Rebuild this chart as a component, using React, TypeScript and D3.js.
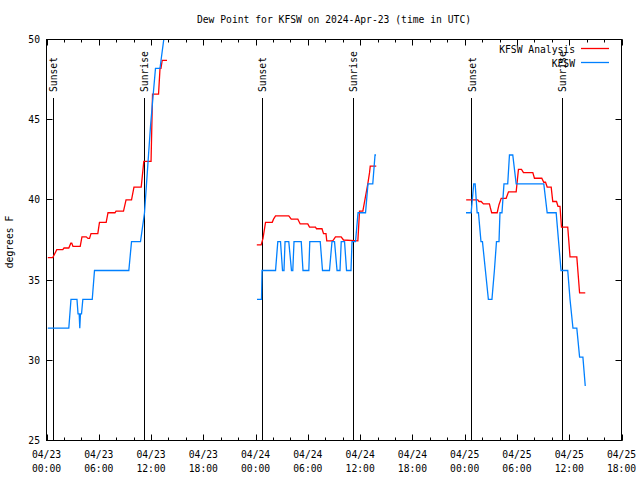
import React from "react";
import * as d3 from "d3";

// hours since 2024-04-23 00:00 UTC, dew point (F)
const analysisDay1: [number, number][] = [
  [0.15, 36.4], [0.72, 36.4], [1.18, 36.9], [1.87, 36.9], [2.01, 37.0], [2.56, 37.0], [2.79, 37.3], [2.9, 37.3],
  [3.04, 37.1], [3.87, 37.1], [4.07, 37.7], [4.56, 37.7], [4.76, 37.6], [4.94, 37.6], [5.11, 37.9], [5.89, 37.9],
  [6.08, 38.6], [6.85, 38.6], [7.06, 39.2], [7.86, 39.2], [7.98, 39.3], [8.84, 39.3], [9.13, 40.0], [9.76, 40.0],
  [10.04, 40.8], [10.87, 40.8], [11.17, 42.4], [12.0, 42.4], [12.17, 46.6], [12.86, 46.6], [13.03, 48.2],
  [13.14, 48.2], [13.28, 48.7], [13.83, 48.7],
];
const obsDay1: [number, number][] = [
  [0.15, 32.0], [2.56, 32.0], [2.81, 33.8], [3.5, 33.8], [3.62, 32.9], [3.75, 32.9], [3.82, 32.0], [3.9, 32.9],
  [4.02, 32.9], [4.17, 33.8], [5.25, 33.8], [5.51, 35.6], [9.45, 35.6], [9.76, 37.4], [10.79, 37.4], [11.25, 39.2],
  [11.48, 41.0], [11.71, 42.8], [11.94, 44.6], [12.22, 46.4], [12.51, 48.2], [13.03, 48.2], [13.17, 48.8],
  [13.46, 50.0], [13.77, 51.8],
];
const analysisDay2: [number, number][] = [
  [24.14, 37.2], [24.64, 37.2], [24.85, 37.6], [25.14, 38.6], [25.91, 38.6], [26.06, 38.8], [26.29, 39.0],
  [27.81, 39.0], [28.09, 38.8], [28.85, 38.8], [29.12, 38.5], [29.99, 38.5], [30.19, 38.3], [30.88, 38.3],
  [30.99, 38.2], [31.62, 38.2], [31.8, 37.9], [32.08, 37.9], [32.17, 37.45], [32.86, 37.45], [33.17, 37.7],
  [33.82, 37.7], [34.09, 37.5], [35.74, 37.45], [35.93, 39.3], [36.31, 39.3], [36.88, 41.0], [37.08, 41.7],
  [37.16, 42.1], [37.85, 42.1],
];
const obsDay2: [number, number][] = [
  [24.16, 33.8], [24.68, 33.8], [24.74, 35.6], [26.29, 35.6], [26.55, 37.4], [26.86, 37.4], [27.09, 35.6],
  [27.26, 35.6], [27.38, 37.4], [27.81, 37.4], [28.12, 35.6], [28.27, 35.6], [28.41, 37.4], [29.24, 37.4],
  [29.44, 35.6], [30.11, 35.6], [30.22, 37.4], [31.42, 37.4], [31.68, 35.6], [32.48, 35.6], [32.77, 37.4],
  [33.06, 37.4], [33.35, 35.6], [33.69, 35.6], [33.83, 37.4], [34.21, 37.4], [34.44, 35.6], [34.95, 35.6],
  [35.07, 37.4], [35.47, 37.4], [35.76, 39.2], [36.62, 39.2], [36.9, 41.0], [37.45, 41.0], [37.71, 42.8],
  [37.82, 42.8],
];
const analysisDay3: [number, number][] = [
  [48.17, 40.0], [49.5, 40.0], [49.64, 39.9], [49.89, 39.9], [50.15, 39.75], [50.84, 39.75], [50.95, 39.5],
  [51.1, 39.2], [51.73, 39.2], [51.94, 39.7], [52.19, 40.1], [52.76, 40.1], [53.03, 40.5], [53.91, 40.5],
  [54.17, 41.9], [54.52, 41.9], [54.75, 41.7], [55.82, 41.7], [56.01, 41.35], [56.85, 41.35], [57.08, 41.1],
  [57.28, 41.1], [57.47, 40.8], [57.93, 40.8], [58.11, 39.9], [58.54, 39.9], [58.71, 39.6], [58.94, 39.6],
  [59.11, 38.3], [59.83, 38.3], [60.09, 36.45], [60.87, 36.45], [61.19, 34.2], [61.84, 34.2],
];
const obsDay3: [number, number][] = [
  [48.15, 39.2], [48.74, 39.2], [49.04, 41.0], [49.2, 41.0], [49.43, 39.2], [49.58, 39.2], [49.87, 37.4],
  [50.04, 37.4], [50.38, 35.6], [50.72, 33.8], [51.13, 33.8], [51.41, 35.6], [51.65, 37.4], [51.94, 37.4],
  [52.05, 39.2], [52.28, 39.2], [52.51, 41.0], [52.94, 41.0], [53.14, 42.8], [53.52, 42.8], [53.91, 41.0],
  [57.08, 41.0], [57.47, 39.2], [58.5, 39.2], [59.06, 35.6], [59.83, 35.6], [60.09, 33.8], [60.43, 32.0],
  [60.87, 32.0], [61.19, 30.2], [61.57, 30.2], [61.84, 28.4],
];

const sunsetHours = [0.717, 24.733, 48.75];
const sunriseHours = [11.167, 35.15, 59.133];
const yTicks = [25, 30, 35, 40, 45, 50];

const title = "Dew Point for KFSW on 2024-Apr-23 (time in UTC)";
const yLabel = "degrees F";
const legendNames = ["KFSW Analysis", "KFSW"];
const colors = ["#ff0000", "#0080ff"];

const W = 640, H = 480;
const L = 46.5, R = 621.5, T = 39.5, B = 440.5;
const FONT = "'DejaVu Sans Mono', 'Liberation Mono', monospace";
const FS = 9.7;

const t0 = Date.UTC(2024, 3, 23, 0);
const hr = (h: number) => new Date(t0 + h * 3600e3);

export default function App() {
  const x = d3.scaleUtc().domain([hr(0), hr(66)]).range([L, R]);
  const y = d3.scaleLinear().domain([25, 50]).range([B, T]);
  const line = d3
    .line<[number, number]>()
    .x((d) => x(hr(d[0])))
    .y((d) => y(d[1]));

  const majors = d3.utcHour.every(6)!.range(hr(0), hr(66.01));
  const minors = d3.utcHour.every(2)!.range(hr(0), hr(66.01));
  const fmtD = d3.utcFormat("%m/%d");
  const fmtT = d3.utcFormat("%H:%M");

  const analysis = [analysisDay1, analysisDay2, analysisDay3];
  const obs = [obsDay1, obsDay2, obsDay3];
  const lineTop = 98;
  const px = (v: number) => Math.round(v) + 0.5;

  return (
    <svg
      width={W}
      height={H}
      style={{ display: "block", position: "absolute", left: 0, top: 0, background: "#fff" }}
      fontFamily={FONT}
      fontSize={FS}
    >
      <defs>
        <clipPath id="plot">
          <rect x={L} y={T} width={R - L} height={B - T} />
        </clipPath>
      </defs>
      <rect x={0} y={0} width={W} height={H} fill="#fff" />
      <text x={(L + R) / 2} y={23} textAnchor="middle" fill="#000">{title}</text>

      {/* y ticks */}
      {yTicks.map((v) => (
        <g key={v}>
          <line x1={L} x2={L + 6} y1={px(y(v) - 0.5)} y2={px(y(v) - 0.5)} stroke="#000" />
          <line x1={R - 6} x2={R} y1={px(y(v) - 0.5)} y2={px(y(v) - 0.5)} stroke="#000" />
          <text x={40} y={y(v) + 3.5} textAnchor="end" fill="#000">{v}</text>
        </g>
      ))}
      {/* x ticks */}
      {minors.map((d, i) => (
        <g key={"m" + i}>
          <line x1={px(x(d))} x2={px(x(d))} y1={B} y2={B - 3} stroke="#000" />
          <line x1={px(x(d))} x2={px(x(d))} y1={T} y2={T + 3} stroke="#000" />
        </g>
      ))}
      {majors.map((d, i) => (
        <g key={"M" + i}>
          <line x1={px(x(d))} x2={px(x(d))} y1={B} y2={B - 6} stroke="#000" />
          <line x1={px(x(d))} x2={px(x(d))} y1={T} y2={T + 6} stroke="#000" />
          <text x={x(d)} y={458} textAnchor="middle" fill="#000">{fmtD(d)}</text>
          <text x={x(d)} y={472} textAnchor="middle" fill="#000">{fmtT(d)}</text>
        </g>
      ))}

      {/* sun lines */}
      {sunsetHours.map((h, i) => (
        <g key={"ss" + i}>
          <line x1={px(x(hr(h)))} x2={px(x(hr(h)))} y1={lineTop} y2={B} stroke="#000" />
          <text transform={`translate(${x(hr(h)) + 4.5},92) rotate(-90)`} fill="#000">Sunset</text>
        </g>
      ))}
      {sunriseHours.map((h, i) => (
        <g key={"sr" + i}>
          <line x1={px(x(hr(h)))} x2={px(x(hr(h)))} y1={lineTop} y2={B} stroke="#000" />
          <text transform={`translate(${x(hr(h)) + 4.5},92) rotate(-90)`} fill="#000">Sunrise</text>
        </g>
      ))}

      {/* data */}
      <g clipPath="url(#plot)" fill="none" strokeWidth={1.3}>
        {analysis.map((s, i) => (
          <path key={"a" + i} d={line(s) || ""} stroke={colors[0]} />
        ))}
        {obs.map((s, i) => (
          <path key={"o" + i} d={line(s) || ""} stroke={colors[1]} />
        ))}
      </g>

      {/* legend */}
      {legendNames.map((n, i) => (
        <g key={n}>
          <text x={575} y={53 + i * 14} textAnchor="end" fill="#000">{n}</text>
          <line x1={581} x2={609} y1={48.5 + i * 14} y2={48.5 + i * 14} stroke={colors[i]} strokeWidth={1.3} />
        </g>
      ))}

      <rect x={L} y={T} width={R - L} height={B - T} fill="none" stroke="#000" />
      <text transform={`translate(13,242) rotate(-90)`} textAnchor="middle" fill="#000">{yLabel}</text>
    </svg>
  );
}
